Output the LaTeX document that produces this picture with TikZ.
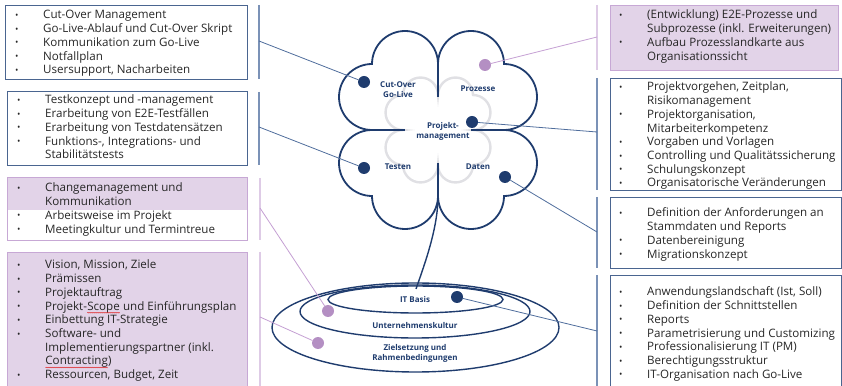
\documentclass[tikz,border=0pt]{standalone}
\usepackage{fontspec}
\setmainfont{Open Sans}
\usetikzlibrary{calc,decorations.pathmorphing}

\definecolor{cNavy}{HTML}{1F3C6E}
\definecolor{cBoxBlue}{HTML}{4A6590}
\definecolor{cBarBlue}{HTML}{7B92B7}
\definecolor{cConnBlue}{HTML}{4F6D9C}
\definecolor{cLilaFill}{HTML}{E2D3E8}
\definecolor{cLilaLine}{HTML}{C7A8D5}
\definecolor{cLilaBar}{HTML}{DECBE6}
\definecolor{cLilaConn}{HTML}{C49FD3}
\definecolor{cLilaDot}{HTML}{B48FC3}
\definecolor{cFaint}{HTML}{E0E0E4}
\definecolor{cSpell}{HTML}{E02020}
\definecolor{cText}{HTML}{262626}

\newcommand{\listfont}{\fontsize{11.6}{13.7}\selectfont}
\newcommand{\blt}{\raisebox{0.4pt}{\fontsize{9}{9}\selectfont\textbullet}}
\newcommand{\redwave}[1]{\tikz[baseline=(w.base)]{\node[inner sep=0pt, outer sep=0pt, anchor=base west, text=cText] (w) at (0,0) {#1};
  \draw[cSpell, line width=0.45pt, decorate, decoration={snake, segment length=2pt, amplitude=0.4pt}] ([yshift=-2.6pt]w.base west) -- ([yshift=-2.6pt]w.base east);}}

\tikzset{
  clover/.pic={
    \draw[pic actions] (0,66) arc[start angle=0, end angle=180, radius=33]
      arc[start angle=90, end angle=270, radius=33]
      arc[start angle=90, end angle=270, radius=33]
      arc[start angle=180, end angle=360, radius=33]
      arc[start angle=180, end angle=360, radius=33]
      arc[start angle=-90, end angle=90, radius=33]
      arc[start angle=-90, end angle=90, radius=33]
      arc[start angle=0, end angle=180, radius=33] -- cycle;
  }
}

\begin{document}
\begin{tikzpicture}[x=1pt, y=1pt,
    bluebox/.style={draw=cBoxBlue, line width=1.1pt, anchor=north west, inner sep=0pt},
    lilabox/.style={draw=cLilaLine, line width=1.1pt, anchor=north west, inner sep=0pt},
    lilashade/.style={fill=cLilaFill, anchor=north west, inner sep=0pt},
    listtext/.style={anchor=base west, inner sep=0pt, font=\listfont, text=cText},
    bluebar/.style={draw=cBarBlue, line width=1.4pt},
    lilabar/.style={draw=cLilaBar, line width=1.4pt},
    blueconn/.style={draw=cConnBlue, line width=0.8pt},
    lilaconn/.style={draw=cLilaConn, line width=0.8pt},
    navydot/.style={circle, fill=cNavy, minimum size=12pt, inner sep=0pt},
    liladot/.style={circle, fill=cLilaDot, minimum size=12pt, inner sep=0pt},
    cloverline/.style={draw=cNavy, line width=1.8pt},
    ringline/.style={draw=cNavy, line width=1.4pt},
    leaflabel/.style={font=\fontsize{8}{10}\selectfont\bfseries, text=cNavy, align=center, inner sep=0pt}
  ]
  \useasboundingbox (0,0) rectangle (842,385);
  \clip (0,0) rectangle (842,385);

  %KLEEBLATT
  \pic[draw=cFaint, line width=2.4pt, scale=0.53] at (438,255) {clover};
  \pic[cloverline] at (438,255) {clover};
  \begin{scope}[shift={(438,255)}]
    \draw[cloverline] (0,66) -- (0,33) (0,-33) -- (0,-66) (-66,0) -- (-33,0) (33,0) -- (66,0);
    \coordinate (notchBottom) at (0,-66);
  \end{scope}

  %BASIS
  \draw[ringline] (415.5,57.5) ellipse [x radius=143.5, y radius=44.5];
  \draw[ringline] (415,73.5) ellipse [x radius=115, y radius=26.5];
  \draw[ringline] (415.5,85.5) ellipse [x radius=87.5, y radius=13.5];
  \coordinate (stemEnd) at (416,96);
  \draw[ringline] (notchBottom) .. controls +(0,-32) and +(9,26) .. (stemEnd);

  %KAESTEN LINKS
  \node[bluebox, minimum width=242pt, minimum height=74pt] (boxCutover) at (5,380) {};
  \node[listtext] (txtCutover) at ([xshift=10pt, yshift=-14pt]boxCutover.north west) {\begin{tabular}[t]{@{}p{28pt}@{}l@{}}
    \blt & Cut-Over Management\\
    \blt & Go-Live-Ablauf und Cut-Over Skript\\
    \blt & Kommunikation zum Go-Live\\
    \blt & Notfallplan\\
    \blt & Usersupport, Nacharbeiten
  \end{tabular}};

  \node[bluebox, minimum width=240pt, minimum height=74pt] (boxTesten) at (7,294) {};
  \node[listtext] (txtTesten) at ([xshift=10pt, yshift=-13pt]boxTesten.north west) {\begin{tabular}[t]{@{}p{28pt}@{}l@{}}
    \blt & Testkonzept und -management\\
    \blt & Erarbeitung von E2E-Testfällen\\
    \blt & Erarbeitung von Testdatensätzen\\
    \blt & Funktions-, Integrations- und\\
         & Stabilitätstests
  \end{tabular}};

  \node[lilashade, minimum width=240pt, minimum height=33pt] (shadeChange) at (7,208) {};
  \node[lilabox, minimum width=240pt, minimum height=63pt] (boxChange) at (7,208) {};
  \node[listtext] (txtChange) at ([xshift=10pt, yshift=-15pt]boxChange.north west) {\begin{tabular}[t]{@{}p{28pt}@{}l@{}}
    \blt & Changemanagement und\\
         & Kommunikation\\
    \blt & Arbeitsweise im Projekt\\
    \blt & Meetingkultur und Termintreue
  \end{tabular}};

  \node[lilabox, fill=cLilaFill, minimum width=240pt, minimum height=142pt] (boxZiele) at (7,133) {};
  \node[listtext] (txtZiele) at ([xshift=10pt, yshift=-17pt]boxZiele.north west) {\begin{tabular}[t]{@{}p{28pt}@{}l@{}}
    \blt & Vision, Mission, Ziele\\
    \blt & Prämissen\\
    \blt & Projektauftrag\\
    \blt & Projekt-\redwave{Scope} und Einführungsplan\\
    \blt & Einbettung IT-Strategie\\
    \blt & Software- und\\
         & Implementierungspartner (inkl.\\
         & \redwave{Contracting})\\
    \blt & Ressourcen, Budget, Zeit
  \end{tabular}};

  %KAESTEN RECHTS
  \node[lilabox, fill=cLilaFill, minimum width=228pt, minimum height=65pt] (boxProzesse) at (610,380) {};
  \node[listtext] (txtProzesse) at ([xshift=9pt, yshift=-14pt]boxProzesse.north west) {\begin{tabular}[t]{@{}p{28pt}@{}l@{}}
    \blt & (Entwicklung) E2E-Prozesse und\\
         & Subprozesse (inkl. Erweiterungen)\\
    \blt & Aufbau Prozesslandkarte aus\\
         & Organisationssicht
  \end{tabular}};

  \node[bluebox, minimum width=231pt, minimum height=112pt] (boxPM) at (610,307) {};
  \node[listtext] (txtPM) at ([xshift=9pt, yshift=-13pt]boxPM.north west) {\begin{tabular}[t]{@{}p{28pt}@{}l@{}}
    \blt & Projektvorgehen, Zeitplan,\\
         & Risikomanagement\\
    \blt & Projektorganisation,\\
         & Mitarbeiterkompetenz\\
    \blt & Vorgaben und Vorlagen\\
    \blt & Controlling und Qualitätssicherung\\
    \blt & Schulungskonzept\\
    \blt & Organisatorische Veränderungen
  \end{tabular}};

  \node[bluebox, minimum width=231pt, minimum height=71pt] (boxDaten) at (610,188) {};
  \node[listtext] (txtDaten) at ([xshift=9pt, yshift=-20pt]boxDaten.north west) {\begin{tabular}[t]{@{}p{28pt}@{}l@{}}
    \blt & Definition der Anforderungen an\\
         & Stammdaten und Reports\\
    \blt & Datenbereinigung\\
    \blt & Migrationskonzept
  \end{tabular}};

  \node[bluebox, minimum width=231pt, minimum height=120pt] (boxIT) at (610,110) {};
  \node[listtext] (txtIT) at ([xshift=9pt, yshift=-21pt]boxIT.north west) {\begin{tabular}[t]{@{}p{28pt}@{}l@{}}
    \blt & Anwendungslandschaft (Ist, Soll)\\
    \blt & Definition der Schnittstellen\\
    \blt & Reports\\
    \blt & Parametrisierung und Customizing\\
    \blt & Professionalisierung IT (PM)\\
    \blt & Berechtigungsstruktur\\
    \blt & IT-Organisation nach Go-Live
  \end{tabular}};

  %KLAMMERN
  \draw[bluebar] (259,380) -- (259,306);
  \draw[bluebar] (259,293) -- (259,220);
  \draw[lilabar] (260,207) -- (260,145);
  \draw[lilabar] (260,133) -- (260,-5);
  \draw[lilabar] (597,380) -- (597,315);
  \draw[bluebar] (597,307) -- (597,195);
  \draw[bluebar] (597,188) -- (597,117);
  \draw[bluebar] (597,110) -- (597,-5);

  \coordinate (brCutover) at (259,344);
  \coordinate (brTesten) at (259,258);
  \coordinate (brChange) at (260,177);
  \coordinate (brZiele) at (260,68);
  \coordinate (brProzesse) at (597,348);
  \coordinate (brPM) at (597,253);
  \coordinate (brDaten) at (597,153);
  \coordinate (brIT) at (597,54);

  %PUNKTE
  \node[navydot] (dotCutover) at (364,303) {};
  \node[liladot] (dotProzesse) at (485,320) {};
  \node[navydot] (dotPM) at (472,263) {};
  \node[navydot] (dotTesten) at (364,217) {};
  \node[navydot] (dotDaten) at (505,208) {};
  \node[navydot] (dotIT) at (457,88) {};
  \node[liladot] (dotKultur) at (328,74) {};
  \node[liladot] (dotZiele) at (318,42) {};

  %LINIEN
  \draw[blueconn] (brCutover) -- (dotCutover);
  \draw[blueconn] (brTesten) -- (dotTesten);
  \draw[lilaconn] (brChange) -- (dotKultur);
  \draw[lilaconn] (brZiele) -- (dotZiele);
  \draw[lilaconn] (brProzesse) -- (dotProzesse);
  \draw[blueconn] (brPM) -- (dotPM);
  \draw[blueconn] (brDaten) -- (dotDaten);
  \draw[blueconn] (brIT) -- (dotIT);

  %BESCHRIFTUNG
  \node[leaflabel] (lblCutover) at (398,295) {Cut-Over\\Go-Live};
  \node[leaflabel] (lblProzesse) at (478,296) {Prozesse};
  \node[leaflabel] (lblPM) at (443,254) {Projekt-\\management};
  \node[leaflabel] (lblTesten) at (398,218) {Testen};
  \node[leaflabel] (lblDaten) at (478,218) {Daten};
  \node[leaflabel] (lblIT) at (415,85) {IT Basis};
  \node[leaflabel] (lblKultur) at (415,59) {Unternehmenskultur};
  \node[leaflabel] (lblZiele) at (415,32) {Zielsetzung und\\Rahmenbedingungen};
\end{tikzpicture}
\end{document}
